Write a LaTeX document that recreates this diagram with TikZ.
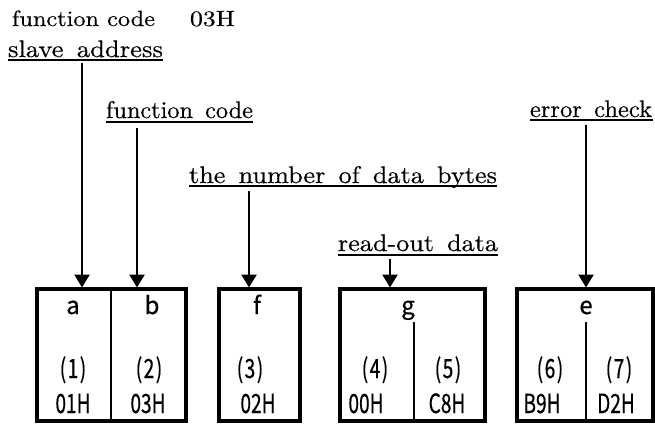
\documentclass[tikz,border=0pt]{standalone}
\usepackage{fontspec}
\usepackage{graphicx}
\usetikzlibrary{arrows.meta}
\newfontfamily\boxfont[FakeStretch=0.72,FakeBold=0.5]{Noto Sans CJK JP}
\newfontfamily\letfont[FakeBold=0.5]{Noto Sans CJK JP}
\newfontfamily\lblfont{lmroman10-regular.otf}[FakeBold=0.4]
\newcommand{\pn}[1]{(\kern1.5pt#1\kern1.5pt)}
\newcommand{\fitw}[2]{\resizebox{#1}{\height}{#2}}
\tikzset{
  box/.style={draw, line width=3.5pt, inner sep=0pt, outer sep=0pt, minimum height=132pt},
  divider/.style={line width=2.2pt},
  arr/.style={line width=2.6pt, -{Triangle[length=13pt,width=15pt]}, shorten >=1.5pt},
  uline/.style={line width=1.6pt},
  lbl/.style={anchor=base west, inner sep=0pt, outer sep=0pt, font=\lblfont\fontsize{24}{28}\selectfont},
  toplbl/.style={anchor=base west, inner sep=0pt, outer sep=0pt, font=\lblfont\fontsize{22}{26}\selectfont},
  bt/.style={anchor=base, inner sep=0pt, font=\boxfont\fontsize{26.5}{28}\selectfont},
  bl/.style={anchor=base, inner sep=0pt, font=\letfont\fontsize{24}{26}\selectfont},
}
\begin{document}
\begin{tikzpicture}[x=1pt, y=-1pt]
\useasboundingbox (0,0) rectangle (655,424);
% top line
\node[toplbl] (fc) at (12,26) {\fitw{143pt}{function code}};
\node[toplbl] (fch) at (190,26) {\fitw{45pt}{03H}};
% labels
\node[lbl] (sa) at (8,57) {\fitw{155pt}{slave\ \,address}};
\node[lbl] (fn) at (106,118) {\fitw{147pt}{function\ \,code}};
\node[lbl] (nb) at (189,183) {\fitw{308pt}{the\ \,number\ \,of\ \,data\ \,bytes}};
\node[lbl] (rd) at (338,251) {\fitw{160pt}{read-out\ \,data}};
\node[lbl] (ec) at (530,117) {\fitw{122pt}{error\ \,check}};
% underlines
\draw[uline] (8,60) -- (163,60);
\draw[uline] (106,122) -- (253,122);
\draw[uline] (189,186) -- (497,186);
\draw[uline] (338,255) -- (498,255);
\draw[uline] (530,120) -- (653,120);
% boxes
\node[box, minimum width=149pt] (bab) at (111.5,355) {};
\node[box, minimum width=81pt] (bf) at (259.5,355) {};
\node[box, minimum width=145pt] (bg) at (412.5,355) {};
\node[box, minimum width=136pt] (be) at (585,355) {};
% dividers
\draw[divider] (111,289) -- (111,421);
\draw[divider] (414,322) -- (414,421);
\draw[divider] (586,322) -- (586,421);
% box texts
\node[bl] (ta) at (73,314) {a};
\node[bl] (tb) at (152,314) {b};
\node[bl] (tf) at (257,314) {f};
\node[bl] (tg) at (408,314) {g};
\node[bl] (te) at (586,314) {e};
\node[bt] (n1) at (73,378) {\pn{1}};
\node[bt] (n2) at (149,378) {\pn{2}};
\node[bt] (n3) at (250,378) {\pn{3}};
\node[bt] (n4) at (375,378) {\pn{4}};
\node[bt] (n5) at (448,378) {\pn{5}};
\node[bt] (n6) at (550,378) {\pn{6}};
\node[bt] (n7) at (619,378) {\pn{7}};
\node[bt] (h1) at (73,413) {01H};
\node[bt] (h2) at (148,413) {03H};
\node[bt] (h3) at (258,413) {02H};
\node[bt] (h4) at (366,413) {00H};
\node[bt] (h5) at (447,413) {C8H};
\node[bt] (h6) at (542,413) {B9H};
\node[bt] (h7) at (616,413) {D2H};
% arrows
\draw[arr] (82,63) -- (bab.north -| 82,0);
\draw[arr] (137,128) -- (bab.north -| 137,0);
\draw[arr] (249,191) -- (bf.north -| 249,0);
\draw[arr] (390,259) -- (bg.north -| 390,0);
\draw[arr] (586,125) -- (be.north -| 586,0);
\end{tikzpicture}
\end{document}
